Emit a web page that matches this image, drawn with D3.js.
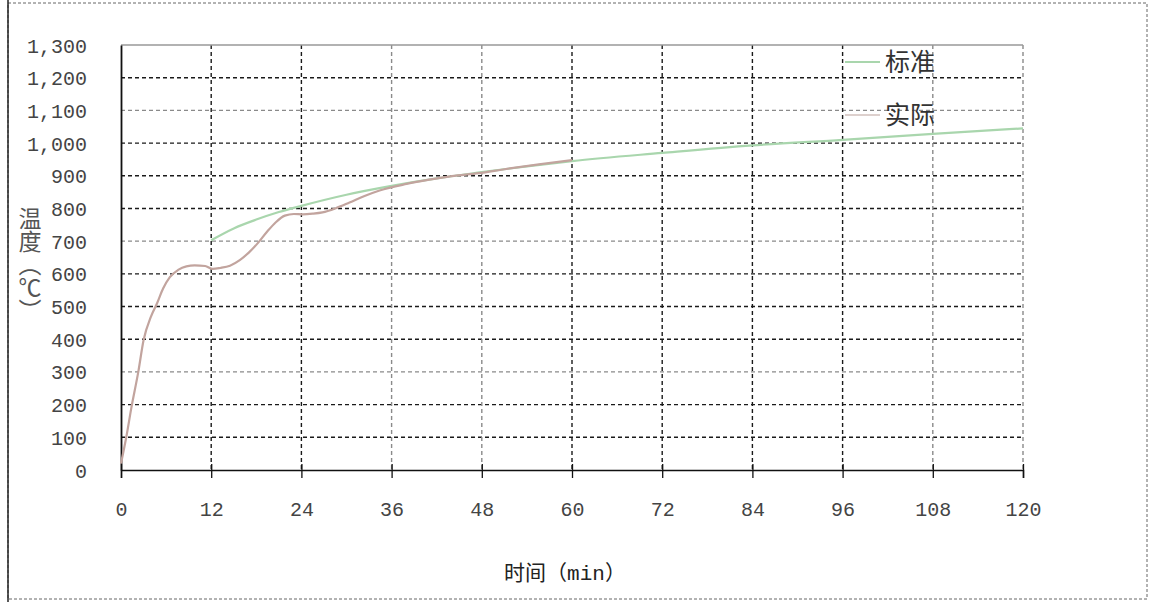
<!DOCTYPE html>
<html>
<head>
<meta charset="utf-8">
<script src="https://cdn.jsdelivr.net/npm/d3@7"></script>
<style>
  body { margin: 0; background: #fff; }
  .axis text { font-family: "Liberation Mono", monospace; font-size: 20px; fill: #444; }
  .grid line { stroke: #1a1a1a; stroke-width: 1.4; stroke-dasharray: 4,3; }
</style>
</head>
<body>
<div id="chart"></div>
<script>
// standard fire curve (标准)
var timeStd = [12, 15, 18, 21, 24, 30, 36, 42, 48, 54, 60, 72, 84, 96, 108, 120];
var tempStd = [703, 739, 766, 789, 808, 842, 869, 892, 911, 929, 945, 970, 993, 1010, 1028, 1045];

// measured furnace curve (实际)
var timeAct = [0, 0.7, 1.4, 2.3, 3.0, 4.0, 4.8, 5.6, 6.5, 7.6, 8.7, 9.8, 11.2, 12.2, 13.2, 14.5, 15.8, 17.0, 18.2, 19.4, 20.6, 21.8, 23.0, 24.2, 25.5, 26.8, 28.5, 30.4, 32.4, 34.4, 38, 41, 44, 47.6, 51, 55.6, 60];
var tempAct = [20, 100, 193, 300, 397, 470, 510, 555, 590, 612, 623, 626, 624, 615, 618, 625, 642, 665, 694, 728, 758, 778, 783, 782, 784, 788, 800, 818, 838, 855, 875, 888, 899, 908, 920, 935, 948];

var xTicks = [0, 12, 24, 36, 48, 60, 72, 84, 96, 108, 120];
var yTicks = [0, 100, 200, 300, 400, 500, 600, 700, 800, 900, 1000, 1100, 1200, 1300];
var legendNames = ["标准", "实际"];

var W = 1154, H = 602;
var margin = { top: 45, right: 131, bottom: 132, left: 121 };
var width = W - margin.left - margin.right,
    height = H - margin.top - margin.bottom;

var stdColor = "#a9d6ad", actColor = "#c2a49e";

var root = d3.select("#chart").append("svg")
    .attr("width", W)
    .attr("height", H);

// outer frame of the scanned figure
root.append("rect")
    .attr("x", 8).attr("y", 3)
    .attr("width", 1139).attr("height", 596)
    .attr("fill", "none")
    .attr("stroke", "#666")
    .attr("stroke-width", 1)
    .attr("stroke-dasharray", "3,2");
root.append("line")
    .attr("x1", 8).attr("x2", 8).attr("y1", 0).attr("y2", H)
    .attr("stroke", "#222").attr("stroke-width", 1.5);

var svg = root.append("g")
    .attr("transform", "translate(" + margin.left + "," + margin.top + ")");

var x = d3.scaleLinear().domain([0, 120]).range([0, width]);
var y = d3.scaleLinear().domain([0, 1300]).range([height, 0]);

// grid
svg.append("g").attr("class", "grid")
    .selectAll("line.h")
    .data(yTicks.filter(function(d) { return d > 0 && d < 1300; }))
    .enter().append("line")
    .attr("x1", 0).attr("x2", width)
    .attr("y1", function(d) { return y(d); })
    .attr("y2", function(d) { return y(d); })
    .style("stroke", function(d) { return (d == 1100 || d == 700 || d == 300) ? "#8a8a8a" : null; });

svg.append("g").attr("class", "grid")
    .selectAll("line.v")
    .data(xTicks.filter(function(d) { return d > 0; }))
    .enter().append("line")
    .attr("y1", 0).attr("y2", height)
    .attr("x1", function(d) { return x(d); })
    .attr("x2", function(d) { return x(d); })
    .style("stroke", function(d) { return (d == 36 || d == 48 || d == 108 || d == 120) ? "#8a8a8a" : null; });

// top line
svg.append("line")
    .attr("x1", 0).attr("x2", width)
    .attr("y1", y(1300)).attr("y2", y(1300))
    .attr("stroke", "#999").attr("stroke-width", 1.5);

// axes
var xAxis = d3.axisBottom(x).tickValues(xTicks).tickSize(8).tickPadding(24).tickFormat(d3.format("d"));
var yAxis = d3.axisLeft(y).tickValues(yTicks).tickSize(0).tickPadding(34).tickFormat(d3.format(","));

var gx = svg.append("g")
    .attr("class", "x-axis axis")
    .attr("transform", "translate(0," + height + ")")
    .call(xAxis);
gx.selectAll(".tick line").attr("y1", -6).attr("stroke", "#111").attr("stroke-width", 1.3);
gx.select(".domain").attr("stroke", "#111").attr("stroke-width", 1.5);

var gy = svg.append("g")
    .attr("class", "y-axis axis")
    .call(yAxis);
gy.select(".domain").attr("stroke", "#111").attr("stroke-width", 1.8);
gy.selectAll(".tick text").attr("dy", "0.35em");

// lines
var line = d3.line()
    .x(function(d) { return x(d[0]); })
    .y(function(d) { return y(d[1]); })
    .curve(d3.curveMonotoneX);

svg.append("path")
    .datum(d3.zip(timeStd, tempStd))
    .attr("fill", "none")
    .attr("stroke", stdColor)
    .attr("stroke-width", 2.2)
    .attr("d", line);

svg.append("path")
    .datum(d3.zip(timeAct, tempAct))
    .attr("fill", "none")
    .attr("stroke", actColor)
    .attr("stroke-width", 2.2)
    .attr("d", line);

// legend
var legend = root.append("g").attr("class", "legend");
legendNames.forEach(function(name, i) {
    var ly = 62 + i * 53;
    legend.append("line")
        .attr("x1", 845).attr("x2", 880)
        .attr("y1", ly).attr("y2", ly)
        .attr("stroke", i == 0 ? stdColor : "#ddd0cd")
        .attr("stroke-width", 2);
    legend.append("text")
        .attr("x", 885).attr("y", ly)
        .attr("dy", "0.36em")
        .style("font-family", "'Noto Sans CJK SC'")
        .style("font-size", "25px")
        .style("fill", "#333")
        .text(name);
});

// axis titles
root.append("text")
    .attr("x", 565).attr("y", 573)
    .attr("dy", "0.35em")
    .attr("text-anchor", "middle")
    .style("font-family", "'Liberation Mono', 'Noto Sans CJK SC'")
    .style("font-size", "21px")
    .style("fill", "#222")
    .text("时间（min）");

// vertical y title
root.append("text")
    .attr("x", 30).attr("y", 207)
    .style("writing-mode", "vertical-rl")
    .style("font-family", "'Noto Sans CJK SC'")
    .style("font-size", "23px")
    .style("fill", "#555")
    .text("温度（℃）");
</script>
</body>
</html>
